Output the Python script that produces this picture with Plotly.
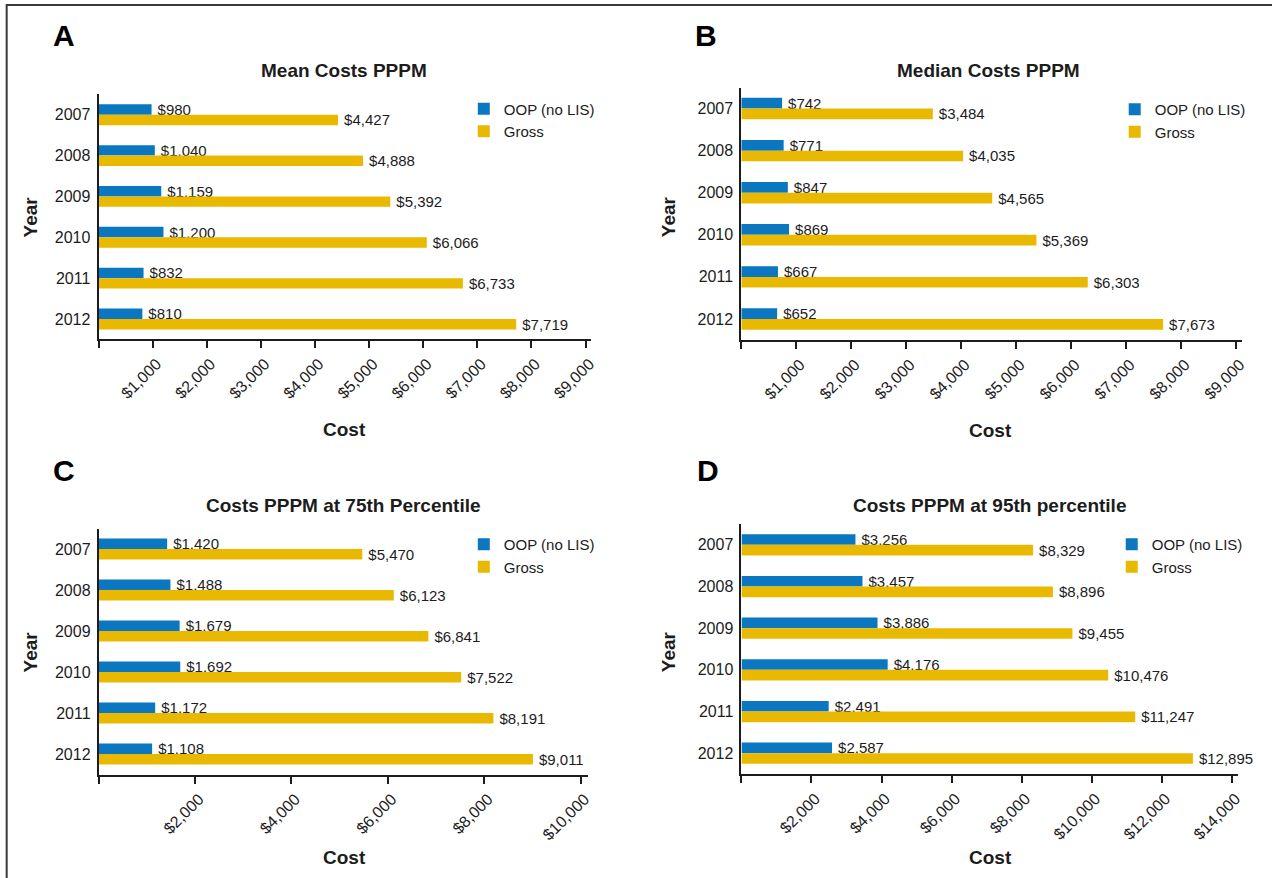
import plotly.graph_objects as go

W, H = 1272, 878

years = ["2007", "2008", "2009", "2010", "2011", "2012"]
mean_oop = [980, 1040, 1159, 1200, 832, 810]
mean_gross = [4427, 4888, 5392, 6066, 6733, 7719]
median_oop = [742, 771, 847, 869, 667, 652]
median_gross = [3484, 4035, 4565, 5369, 6303, 7673]
p75_oop = [1420, 1488, 1679, 1692, 1172, 1108]
p75_gross = [5470, 6123, 6841, 7522, 8191, 9011]
p95_oop = [3256, 3457, 3886, 4176, 2491, 2587]
p95_gross = [8329, 8896, 9455, 10476, 11247, 12895]

ticks_ab = [0, 1000, 2000, 3000, 4000, 5000, 6000, 7000, 8000, 9000]
ticks_c = [0, 2000, 4000, 6000, 8000, 10000]
ticks_d = [0, 2000, 4000, 6000, 8000, 10000, 12000, 14000]

series_names = ["OOP (no LIS)", "Gross"]
panel_titles = ["Mean Costs PPPM", "Median Costs PPPM",
                "Costs PPPM at 75th Percentile", "Costs PPPM at 95th percentile"]
panel_letters = ["A", "B", "C", "D"]

BLUE = "#0a77c0"
GOLD = "#e9b901"
INK = "#1c1c1c"
FONT = "Liberation Sans, Arial, Helvetica, sans-serif"


def xd(a, b):
    return [a / W, b / W]


def yd(top, bottom):
    return [1 - bottom / H, 1 - top / H]


def money(v):
    return "" if v == 0 else f"${v:,}"


# geometry per panel (pixels): x0, x1, ytop, ybottom, xmax
geom = [
    (99.0, 594.3, 94.3, 339.4, 9110),
    (744.8, 1247.4, 87.5, 340.0, 9100),
    (99.2, 590.6, 528.5, 774.5, 10150),
    (745.0, 1243.4, 524.0, 774.0, 14170),
]
data = [(mean_oop, mean_gross, ticks_ab), (median_oop, median_gross, ticks_ab),
        (p75_oop, p75_gross, ticks_c), (p95_oop, p95_gross, ticks_d)]
legend_pos = [(466, 92.5), (1120, 93), (466, 528), (1117, 528)]
title_pos = [(346, 70), (993, 70), (345, 505), (994, 505)]
letter_pos = [(64.5, 36), (709.7, 35), (64.7, 471), (711.8, 471)]
cost_pos = [(346, 429), (995, 430), (346, 857), (995, 857)]
year_pos = [(30.6, 217), (671.4, 217), (30.6, 652), (671.4, 652)]

fig = go.Figure()
layout = {}
annotations = []
for i, ((oop, gross, tvals), (x0, x1, yt, yb, xmax)) in enumerate(zip(data, geom)):
    sfx = "" if i == 0 else str(i + 1)
    leg = "legend" + sfx
    for name, vals, col in zip(series_names, [oop, gross], [BLUE, GOLD]):
        fig.add_trace(go.Bar(
            y=years, x=vals, orientation="h", name=name,
            marker=dict(color=col, line=dict(width=0)),
            text=["\u2009" + money(v) for v in vals], textposition="outside",
            constraintext="none", cliponaxis=False,
            textfont=dict(size=15, color=INK, family=FONT),
            xaxis="x" + sfx, yaxis="y" + sfx, legend=leg,
            legendgroup=name + sfx, hoverinfo="skip",
        ))
    layout["xaxis" + sfx] = dict(
        domain=xd(x0, x1), anchor="y" + sfx, range=[0, xmax],
        tickvals=tvals, ticktext=[money(v) for v in tvals],
        tickangle=-45, ticks="outside", ticklen=7, tickwidth=1.5, tickcolor=INK,
        ticklabelshift=4,
        showline=True, linewidth=2, linecolor=INK, showgrid=False, zeroline=False,
        tickfont=dict(size=16, color=INK, family=FONT),
    )
    layout["yaxis" + sfx] = dict(
        domain=yd(yt, yb), anchor="x" + sfx, type="category",
        range=[5.5, -0.5], showline=True, linewidth=2, linecolor=INK,
        showgrid=False, zeroline=False, ticks="", ticklabelstandoff=3,
        tickfont=dict(size=16, color=INK, family=FONT),
    )
    lx, ly = legend_pos[i]
    layout[leg] = dict(
        x=lx / W, y=1 - ly / H, xanchor="left", yanchor="top",
        bgcolor="rgba(0,0,0,0)", borderwidth=0, tracegroupgap=0,
        font=dict(size=15, color=INK, family=FONT), traceorder="grouped",
    )
    tx, ty = title_pos[i]
    annotations.append(dict(text=f"<b>{panel_titles[i]}</b>", x=tx / W, y=1 - ty / H,
                            xref="paper", yref="paper", showarrow=False,
                            xanchor="center", yanchor="middle",
                            font=dict(size=19, color=INK, family=FONT)))
    lx2, ly2 = letter_pos[i]
    annotations.append(dict(text=f"<b>{panel_letters[i]}</b>", x=lx2 / W, y=1 - ly2 / H,
                            xref="paper", yref="paper", showarrow=False,
                            xanchor="center", yanchor="middle",
                            font=dict(size=30, color="#000", family=FONT)))
    cx, cy = cost_pos[i]
    annotations.append(dict(text="<b>Cost</b>", x=cx / W, y=1 - cy / H,
                            xref="paper", yref="paper", showarrow=False,
                            xanchor="center", yanchor="middle",
                            font=dict(size=19, color=INK, family=FONT)))
    yx, yy = year_pos[i]
    annotations.append(dict(text="<b>Year</b>", x=yx / W, y=1 - yy / H,
                            xref="paper", yref="paper", showarrow=False,
                            xanchor="center", yanchor="middle", textangle=-90,
                            font=dict(size=19, color=INK, family=FONT)))

fig.update_layout(
    width=W, height=H, margin=dict(l=0, r=0, t=0, b=0),
    paper_bgcolor="white", plot_bgcolor="white",
    barmode="group", bargap=0.49, bargroupgap=0,
    font=dict(family=FONT, color=INK),
    annotations=annotations,
    shapes=[dict(type="rect", xref="paper", yref="paper",
                 x0=6.7 / W, x1=1.02, y0=-0.02, y1=1 - 5 / H,
                 line=dict(color="#3a3a3a", width=2), layer="below")],
    **layout,
)

fig.write_html("out.html", config={"displayModeBar": False},
               post_script="document.body.style.margin='0';document.body.style.overflow='hidden';")
